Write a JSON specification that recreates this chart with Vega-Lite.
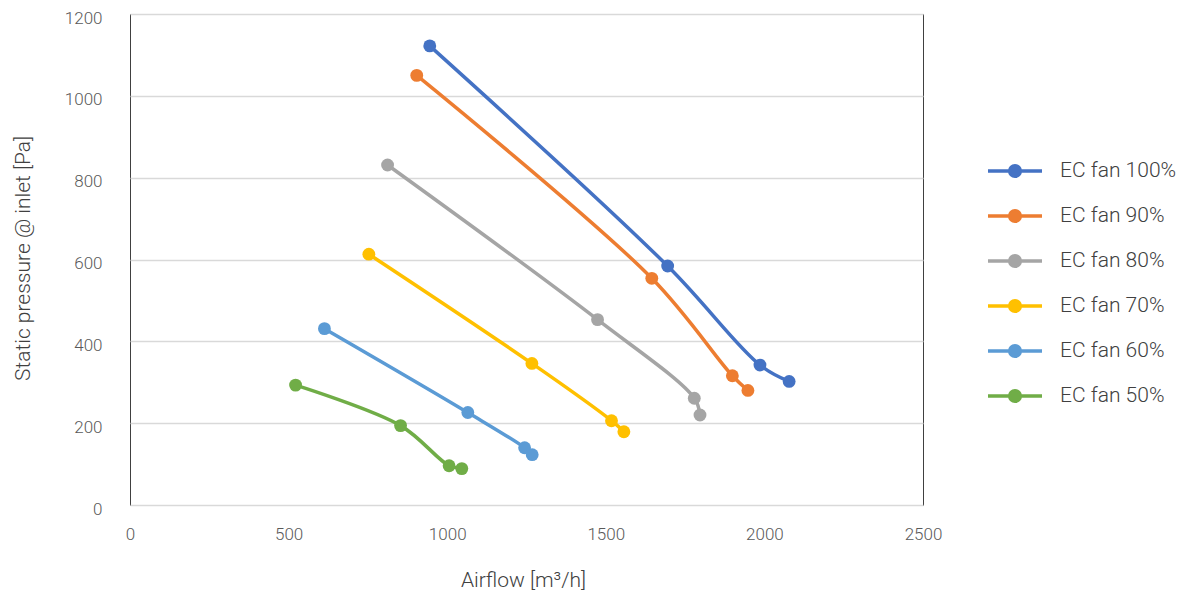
{
  "$schema": "https://vega.github.io/schema/vega-lite/v6.json",
  "autosize": {"type": "none"},
  "padding": {"left": 130, "top": 14, "right": 266, "bottom": 90},
  "width": 793,
  "height": 491,
  "background": "white",
  "config": {
    "view": {"stroke": "#404040", "strokeWidth": 1},
    "font": "Roboto"
  },
  "data": {
    "values": [
      {"series": "EC fan 100%", "airflow": 945, "pressure": 1122},
      {"series": "EC fan 100%", "airflow": 1695, "pressure": 584},
      {"series": "EC fan 100%", "airflow": 1986, "pressure": 342},
      {"series": "EC fan 100%", "airflow": 2078, "pressure": 302},
      {"series": "EC fan 90%", "airflow": 904, "pressure": 1050},
      {"series": "EC fan 90%", "airflow": 1645, "pressure": 554},
      {"series": "EC fan 90%", "airflow": 1899, "pressure": 316},
      {"series": "EC fan 90%", "airflow": 1948, "pressure": 280},
      {"series": "EC fan 80%", "airflow": 812, "pressure": 831},
      {"series": "EC fan 80%", "airflow": 1474, "pressure": 453},
      {"series": "EC fan 80%", "airflow": 1779, "pressure": 261},
      {"series": "EC fan 80%", "airflow": 1797, "pressure": 220},
      {"series": "EC fan 70%", "airflow": 753, "pressure": 613},
      {"series": "EC fan 70%", "airflow": 1267, "pressure": 346},
      {"series": "EC fan 70%", "airflow": 1518, "pressure": 206},
      {"series": "EC fan 70%", "airflow": 1557, "pressure": 179},
      {"series": "EC fan 60%", "airflow": 613, "pressure": 431},
      {"series": "EC fan 60%", "airflow": 1065, "pressure": 226},
      {"series": "EC fan 60%", "airflow": 1244, "pressure": 140},
      {"series": "EC fan 60%", "airflow": 1268, "pressure": 123},
      {"series": "EC fan 50%", "airflow": 522, "pressure": 293},
      {"series": "EC fan 50%", "airflow": 853, "pressure": 194},
      {"series": "EC fan 50%", "airflow": 1006, "pressure": 96},
      {"series": "EC fan 50%", "airflow": 1046, "pressure": 89}
    ]
  },
  "mark": {
    "type": "line",
    "interpolate": "catmull-rom",
    "strokeWidth": 3.5,
    "point": {"filled": true, "size": 165, "opacity": 1}
  },
  "encoding": {
    "x": {
      "field": "airflow",
      "type": "quantitative",
      "scale": {"domain": [0, 2500], "nice": false, "zero": false},
      "axis": {
        "title": "Airflow [m³/h]",
        "values": [0, 500, 1000, 1500, 2000, 2500],
        "format": "d",
        "labelFlush": false,
        "grid": false,
        "domain": false,
        "ticks": false,
        "tickSize": 0,
        "labelPadding": 21,
        "labelFontSize": 17,
        "labelColor": "#595959",
        "labelFont": "Roboto",
        "labelFontWeight": 300,
        "titleFontSize": 21,
        "titleFontWeight": 300,
        "titleFont": "Roboto",
        "titleColor": "#404040",
        "titleX": 393,
        "titleY": 75,
        "titleAlign": "center",
        "titleBaseline": "middle"
      }
    },
    "y": {
      "field": "pressure",
      "type": "quantitative",
      "scale": {"domain": [0, 1200], "nice": false, "zero": true},
      "axis": {
        "title": "Static pressure @ inlet [Pa]",
        "values": [0, 200, 400, 600, 800, 1000, 1200],
        "format": "d",
        "labelFlush": false,
        "grid": true,
        "gridColor": "#d9d9d9",
        "gridWidth": 1.5,
        "domain": false,
        "ticks": false,
        "tickSize": 0,
        "labelPadding": 28,
        "labelOffset": 4,
        "labelFontSize": 17,
        "labelColor": "#595959",
        "labelFont": "Roboto",
        "labelFontWeight": 300,
        "titleFontSize": 21,
        "titleFontWeight": 300,
        "titleFont": "Roboto",
        "titleColor": "#404040",
        "titleX": -107,
        "titleY": 244,
        "titleAngle": 270,
        "titleAlign": "center",
        "titleBaseline": "middle"
      }
    },
    "color": {
      "field": "series",
      "type": "nominal",
      "scale": {
        "domain": ["EC fan 100%", "EC fan 90%", "EC fan 80%", "EC fan 70%", "EC fan 60%", "EC fan 50%"],
        "range": ["#4472C4", "#ED7D31", "#A5A5A5", "#FFC000", "#5B9BD5", "#70AD47"]
      },
      "legend": {
        "title": null,
        "orient": "none",
        "legendX": 874,
        "legendY": 146,
        "symbolType": "M-3,0L3,0M-0.59,0A0.59,0.59,0,1,0,0.59,0A0.59,0.59,0,1,0,-0.59,0M-0.32,0A0.32,0.32,0,1,0,0.32,0A0.32,0.32,0,1,0,-0.32,0M-0.09,0A0.09,0.09,0,1,0,0.09,0A0.09,0.09,0,1,0,-0.09,0",
        "symbolSize": 324,
        "symbolStrokeWidth": 3.5,
        "labelFontSize": 21,
        "labelFont": "Roboto",
        "labelFontWeight": 300,
        "labelColor": "#404040",
        "labelOffset": 34,
        "rowPadding": 19
      }
    }
  }
}
